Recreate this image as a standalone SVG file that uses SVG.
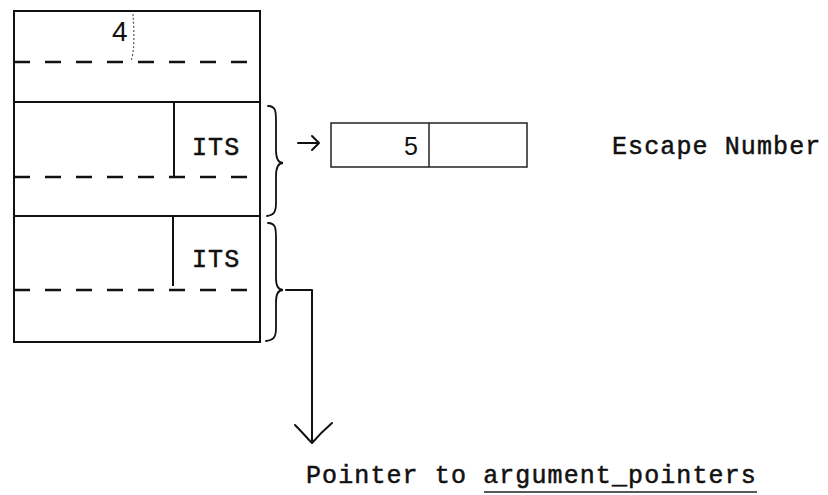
<svg xmlns="http://www.w3.org/2000/svg" width="828" height="495" viewBox="0 0 828 495">
<style>
.solid{fill:none;stroke:#111;stroke-width:2}
.thin{fill:none;stroke:#222;stroke-width:1.5}
.dash{fill:none;stroke:#111;stroke-width:2.6;stroke-dasharray:16 15}
.tw{font-family:"Liberation Mono","Courier New",monospace;font-size:25px;letter-spacing:1.1px;fill:#111;stroke:#111;stroke-width:0.5}
.num{font-family:"Liberation Sans",Arial,sans-serif;fill:#111}
.brace{fill:none;stroke:#111;stroke-width:1.8;stroke-linecap:round}
.conn{fill:none;stroke:#111;stroke-width:2;stroke-linecap:round;stroke-linejoin:round}
</style>
<rect width="828" height="495" fill="#fff"/>
<g id="record">
  <rect class="solid" x="14" y="11" width="246" height="331"/>
  <line class="dash" x1="14" y1="62" x2="260" y2="62"/>
  <path d="M133,14 C134,30 135,50 131,61" fill="none" stroke="#555" stroke-width="1.2" stroke-dasharray="2 2"/>
  <text class="num" x="112" y="41" font-size="28">4</text>
  <line class="solid" x1="14" y1="102" x2="260" y2="102"/>
  <line class="solid" x1="174" y1="102" x2="174" y2="177"/>
  <line class="dash" x1="14" y1="177" x2="260" y2="177"/>
  <text class="tw" x="192" y="155">ITS</text>
  <line class="solid" x1="14" y1="216" x2="260" y2="216"/>
  <line class="solid" x1="173" y1="216" x2="173" y2="286"/>
  <line class="dash" x1="14" y1="290" x2="260" y2="290"/>
  <text class="tw" x="192" y="267">ITS</text>
</g>
<g id="braces">
  <path class="brace" d="M268,106 C276,106 276,112 276,122 L276,150 C276,158 278,163 283,163 C278,163 276,168 276,176 L276,203 C276,212 274,215 267,216"/>
  <path class="brace" d="M268,223 C276,223 276,229 276,239 L276,278 C276,285 278,290 283,290 C278,290 276,295 276,302 L276,328 C276,337 274,340 266,341"/>
</g>
<g id="escape-box">
  <rect class="thin" x="331" y="123" width="196" height="44"/>
  <line class="thin" x1="429" y1="123" x2="429" y2="167"/>
  <text class="num" x="404" y="155" font-size="25">5</text>
</g>
<g id="escape-label">
  <text class="tw" x="612" y="154">Escape Number</text>
</g>
<g id="pointer-label">
  <text class="tw" x="306" y="483">Pointer to argument_pointers</text>
  <line x1="484" y1="492" x2="757" y2="492" stroke="#222" stroke-width="1.5"/>
</g>
<g id="connectors">
  <path class="conn" d="M298,143 L319,143 M312,136 L319,143 L312,150"/>
  <path class="conn" d="M286,290 L312,290 L312,442"/>
  <path class="conn" d="M295,425 C302,432 307,438 312,443 C318,436 324,430 332,423"/>
</g>
</svg>
